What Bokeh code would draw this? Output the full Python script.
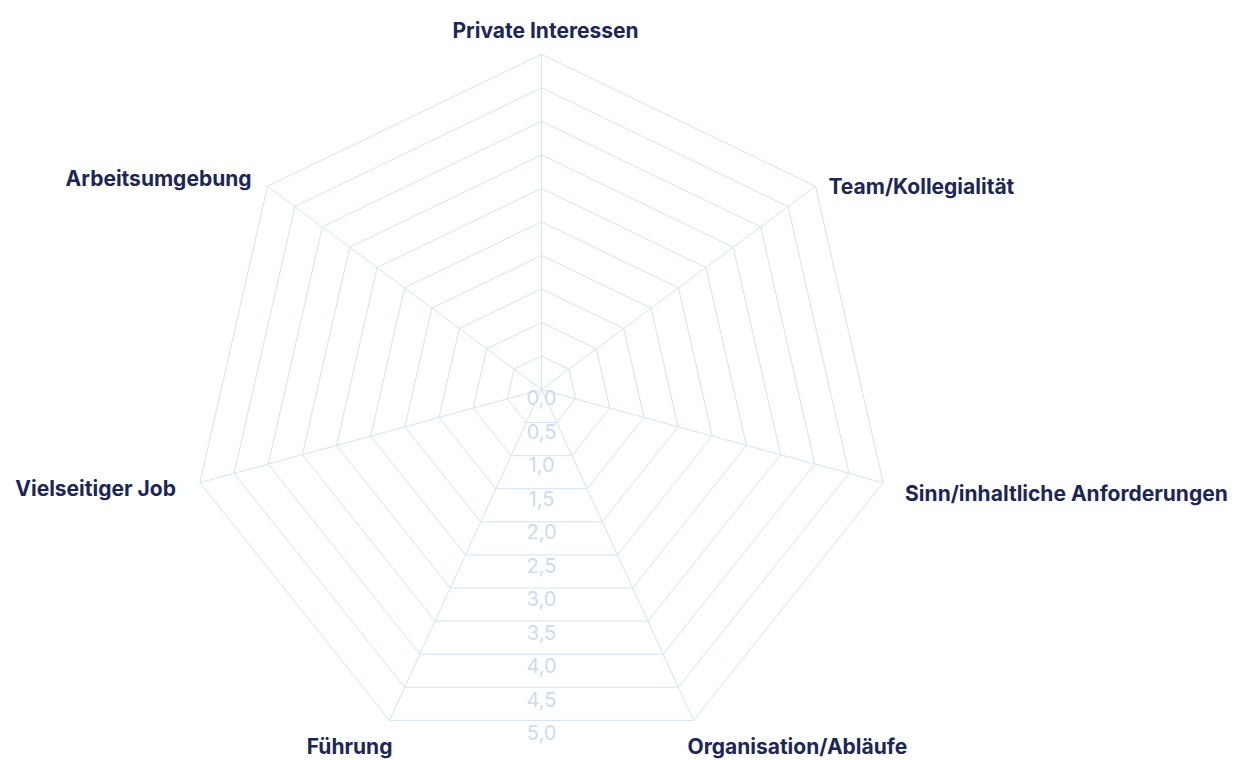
import numpy as np
from bokeh.plotting import figure
from bokeh.models import ColumnDataSource, Range1d
from bokeh.embed import file_html
from bokeh.resources import INLINE
from bokeh.core.properties import value

# ---- data ----
categories = [
    "Private Interessen",
    "Team/Kollegialität",
    "Sinn/inhaltliche Anforderungen",
    "Organisation/Abläufe",
    "Führung",
    "Vielseitiger Job",
    "Arbeitsumgebung",
]
tick_values = [0.0, 0.5, 1.0, 1.5, 2.0, 2.5, 3.0, 3.5, 4.0, 4.5, 5.0]
tick_labels = ["0,0", "0,5", "1,0", "1,5", "2,0", "2,5", "3,0", "3,5", "4,0", "4,5", "5,0"]
r_max = 5.0

# ---- layout / style ----
W, H = 1252, 760
CX, CY = 541.0, 389.0          # pixel of the radar centre
PPU = 70.08                    # pixels per value unit
DRIFT = 3.04 / PPU             # downward drift of ring centres per unit (as in reference)
GRID = "#d3e3f6"
TICK_COLOR = "#c9dcf2"
NAVY = "#1c2658"

# label alignment and pixel offsets from the outer vertex (style only)
label_layout = [
    ("center", 4, -24),
    ("left", 13, 0),
    ("left", 22, 11),
    ("left", -6, 26),
    ("right", 3, 26),
    ("right", -24, 6),
    ("right", -16, -7.5),
]

n = len(categories)
angles = [2 * np.pi * i / n for i in range(n)]


def pt(r, th):
    return r * np.sin(th), r * np.cos(th) - DRIFT * r


p = figure(
    width=W, height=H,
    x_range=Range1d(-CX / PPU, (W - CX) / PPU),
    y_range=Range1d(-(H - CY) / PPU, CY / PPU),
    output_backend="svg", toolbar_location=None,
    x_axis_location=None, y_axis_location=None,
    min_border=0,
)
p.grid.visible = False
p.outline_line_color = None
p.background_fill_color = "white"
p.border_fill_color = "white"

# rings
ring_xs, ring_ys = [], []
for t in tick_values[1:]:
    xs, ys = [], []
    for th in angles + [angles[0]]:
        x, y = pt(t, th)
        xs.append(x)
        ys.append(y)
    ring_xs.append(xs)
    ring_ys.append(ys)
p.multi_line(ring_xs, ring_ys, line_color=GRID, line_width=1)

# spokes
sp_xs, sp_ys = [], []
for th in angles:
    x, y = pt(r_max, th)
    sp_xs.append([0, x])
    sp_ys.append([0, y])
p.multi_line(sp_xs, sp_ys, line_color=GRID, line_width=1)

# radial tick labels (drawn downward from the centre)
tsrc = ColumnDataSource(dict(
    x=[0.0] * len(tick_values),
    y=[-v * (1 - DRIFT) for v in tick_values],
    text=tick_labels,
))
p.text("x", "y", text="text", source=tsrc, text_align="center", text_baseline="middle",
       y_offset=8, text_font=value("Inter"), text_font_size="20px", text_color=TICK_COLOR)

# category labels
lx, ly = zip(*[pt(r_max, th) for th in angles])
csrc = ColumnDataSource(dict(
    x=list(lx), y=list(ly), text=categories,
    align=[l[0] for l in label_layout],
    xo=[l[1] for l in label_layout],
    yo=[l[2] for l in label_layout],
))
p.text("x", "y", text="text", source=csrc, text_align="align", text_baseline="alphabetic",
       x_offset="xo", y_offset="yo", text_font=value("Inter"), text_font_style="bold",
       text_font_size="21px", text_color=NAVY)

open("out.html", "w").write(file_html(p, INLINE))
